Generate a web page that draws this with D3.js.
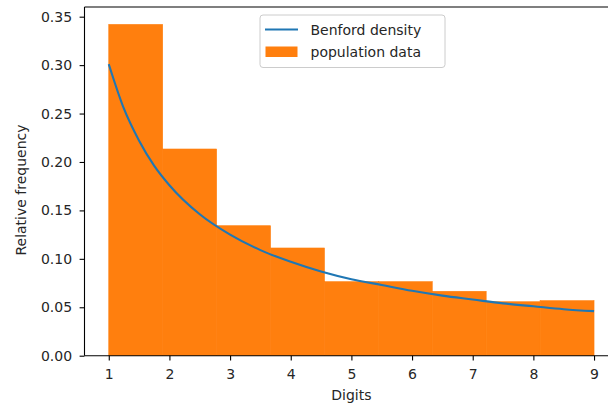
<!DOCTYPE html>
<html>
<head>
<meta charset="utf-8">
<script src="https://cdn.jsdelivr.net/npm/d3@7"></script>
<style>
  html, body { margin: 0; padding: 0; background: #fff; }
  svg { display: block; font-family: "DejaVu Sans", sans-serif; }
</style>
</head>
<body>
<svg id="chart" width="608" height="408"></svg>
<script>
// Histogram bins of leading digits (density-normalised)
const binEdges = [1, 1.889, 2.778, 3.667, 4.556, 5.444, 6.333, 7.222, 8.111, 9];
const binHeights = [0.342, 0.2134, 0.1342, 0.1112, 0.0764, 0.0764, 0.0665, 0.0557, 0.0568];

// Benford density curve samples
const curveX = [1, 1.25, 1.5, 1.75, 2, 2.5, 3, 3.5, 4, 4.5, 5, 5.5, 6, 6.5, 7, 7.5, 8, 8.5, 9];
const curveY = [0.301, 0.255, 0.222, 0.196, 0.176, 0.146, 0.125, 0.109, 0.097, 0.087, 0.079, 0.073, 0.067, 0.062, 0.058, 0.054, 0.051, 0.048, 0.046];

const xTicks = [1, 2, 3, 4, 5, 6, 7, 8, 9];
const yTicks = [0, 0.05, 0.10, 0.15, 0.20, 0.25, 0.30, 0.35];

const seriesNames = ["Benford density", "population data"];
const colors = { line: "#1f77b4", bar: "#ff7f0e" };

const svg = d3.select("#chart");
const m = { left: 84.5, top: 7, right: 618.3, bottom: 355.7 };

const x = d3.scaleLinear().domain([0.6, 9.4]).range([m.left, m.right]);
const y = d3.scaleLinear().domain([0, 0.36]).range([m.bottom, m.top]);

// bars
const bins = binHeights.map((h, i) => ({ x0: binEdges[i], x1: binEdges[i + 1], h }));
svg.append("g").selectAll("rect").data(bins).join("rect")
  .attr("x", d => x(d.x0))
  .attr("width", d => x(d.x1) - x(d.x0))
  .attr("y", d => y(d.h))
  .attr("height", d => y(0) - y(d.h))
  .attr("fill", colors.bar)
  .attr("stroke", colors.bar)
  .attr("stroke-width", 0.6);

// density line
const pts = curveX.map((v, i) => [v, curveY[i]]);
svg.append("path").datum(pts)
  .attr("fill", "none")
  .attr("stroke", colors.line)
  .attr("stroke-width", 2.1)
  .attr("d", d3.line().x(d => x(d[0])).y(d => y(d[1])).curve(d3.curveMonotoneX));

// axes
const fontSize = "14px";
const xAxis = svg.append("g").attr("transform", `translate(0,${m.bottom})`)
  .call(d3.axisBottom(x).tickValues(xTicks).tickSize(4.9).tickPadding(8.5).tickFormat(d3.format("d")));
const yAxis = svg.append("g").attr("transform", `translate(${m.left},0)`)
  .call(d3.axisLeft(y).tickValues(yTicks).tickSize(4.9).tickPadding(7.5).tickFormat(d3.format(".2f")));
[xAxis, yAxis].forEach(g => {
  g.select(".domain").remove();
  g.selectAll(".tick line").attr("stroke", "#000").attr("stroke-width", 1.1);
  g.selectAll(".tick text").attr("fill", "#262626").style("font-size", fontSize)
    .style("font-family", "DejaVu Sans, sans-serif");
});

// spines (left, bottom, top; right lies beyond the canvas)
const spine = svg.append("g").attr("stroke", "#000").attr("stroke-width", 1.1).attr("fill", "none");
spine.append("line").attr("x1", m.left).attr("x2", m.left).attr("y1", m.top).attr("y2", m.bottom);
spine.append("line").attr("x1", m.left).attr("x2", m.right).attr("y1", m.bottom).attr("y2", m.bottom);
spine.append("line").attr("x1", m.left).attr("x2", m.right).attr("y1", m.top).attr("y2", m.top);
spine.append("line").attr("x1", m.right).attr("x2", m.right).attr("y1", m.top).attr("y2", m.bottom);

// axis labels
svg.append("text").attr("x", (x(1) + x(9)) / 2).attr("y", 400)
  .attr("text-anchor", "middle").attr("fill", "#262626").style("font-size", fontSize)
  .text("Digits");
svg.append("text")
  .attr("transform", "translate(26,190) rotate(-90)")
  .attr("text-anchor", "middle").attr("fill", "#262626").style("font-size", fontSize)
  .text("Relative frequency");

// legend
const lg = svg.append("g").attr("transform", "translate(260,15)");
lg.append("rect").attr("x", 0).attr("y", 0).attr("width", 185).attr("height", 52.5)
  .attr("rx", 3).attr("fill", "#fff").attr("fill-opacity", 0.8)
  .attr("stroke", "#cccccc").attr("stroke-width", 1);
lg.append("line").attr("x1", 5).attr("x2", 38).attr("y1", 14.5).attr("y2", 14.5)
  .attr("stroke", colors.line).attr("stroke-width", 2.1);
lg.append("rect").attr("x", 5.5).attr("y", 31.5).attr("width", 32).attr("height", 10.5)
  .attr("fill", colors.bar);
lg.append("text").attr("x", 50.5).attr("y", 20).attr("fill", "#262626").style("font-size", fontSize)
  .text(seriesNames[0]);
lg.append("text").attr("x", 50.5).attr("y", 42).attr("fill", "#262626").style("font-size", fontSize)
  .text(seriesNames[1]);
</script>
</body>
</html>
